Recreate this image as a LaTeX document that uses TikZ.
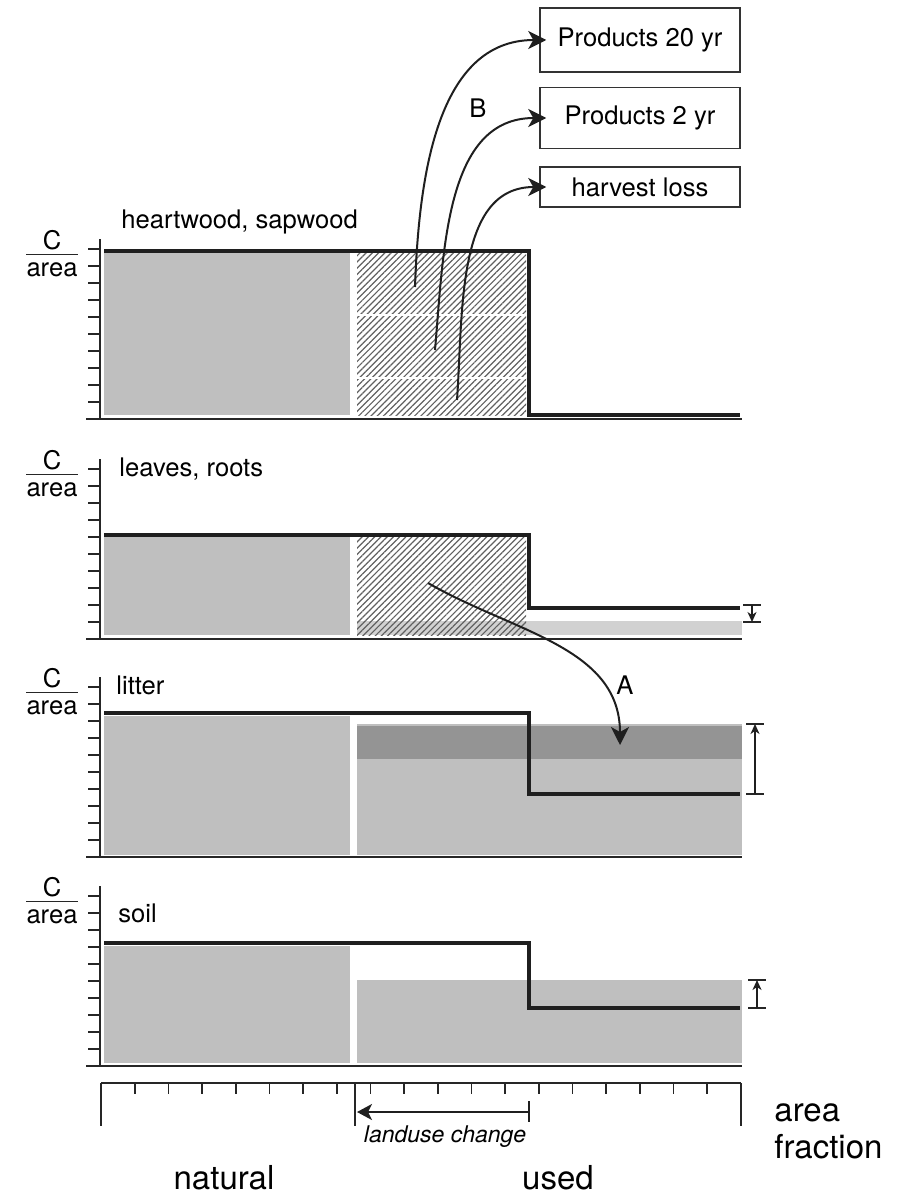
\documentclass[tikz,border=0pt]{standalone}
\usepackage{fontspec}
\setmainfont{TeX Gyre Heros}
\usetikzlibrary{patterns, patterns.meta, arrows.meta, positioning}

\begin{document}
\begin{tikzpicture}
	[%
	x=0.5pt, y=-0.5pt,%
	txt/.style     ={inner sep=0pt,		font=\fontsize{12.8}{15}\selectfont},%
	bigtxt/.style  ={inner sep=0pt,		font=\fontsize{16.5}{19}\selectfont},%
	store/.style   ={rectangle,		draw=black!80,	line width=0.75pt,	minimum width=100pt,	inner sep=0pt,	font=\fontsize{12.8}{15}\selectfont},%
	stock/.style   ={draw=black!88,	line width=2.2pt},%
	axisline/.style={draw=black!85,	line width=0.85pt},%
	pool/.style    ={fill=black!25},%
	pooldark/.style={fill=black!42},%
	poollight/.style={fill=black!18},%
	hatch/.style   ={pattern={Lines[angle=45, distance=2.2pt, line width=0.6pt]},	pattern color=black!62},%
	flow/.style    ={-{Stealth[length=9pt, width=9pt, inset=2.5pt]},	draw=black!88,	line width=1pt},%
	dflow/.style   ={-{Stealth[length=5pt, width=4.5pt, inset=1.5pt]},	draw=black!88,	line width=0.85pt},%
	]

	\useasboundingbox (0,0) rectangle (901,1204);

	\newcommand{\lax}{100}
	\newcommand{\ldrop}{529}

	% axes of the four pools
	\foreach \b/\n in {419/1, 639/2, 857/3, 1066/4} {%
		\draw [axisline] (\lax,\b-180) -- (\lax,\b);
		\draw [axisline] (86,\b) -- (742,\b);
		\foreach \k in {1,...,10}%
			\draw [axisline] (88,\b-17*\k) -- (\lax,\b-17*\k);
		\node (c\n)    at (52,\b-179) [txt] {C};
		\node (area\n) at (52,\b-149) [txt] {area};
		\draw [axisline] ([yshift=4pt]area\n.north west) -- ([yshift=4pt]area\n.north east);
	}

	% heartwood, sapwood
	\node (wood) at (121,222) [txt, anchor=west] {heartwood, sapwood};
	\fill [pool]  (104,253) rectangle (350,415);
	\fill [hatch] (357,253) rectangle (526,415);
	\draw [white, line width=1pt] (357,315) -- (526,315);
	\draw [white, line width=1pt] (357,378) -- (526,378);
	\draw [stock] (104,251) -- (\ldrop,251) -- (\ldrop,415) -- (740,415);

	% leaves, roots
	\node (leaves) at (119,469) [txt, anchor=west] {leaves, roots};
	\fill [pool]      (104,537) rectangle (350,635);
	\fill [poollight] (357,621) rectangle (742,635);
	\fill [hatch]     (357,537) rectangle (526,635);
	\draw [stock] (104,535) -- (\ldrop,535) -- (\ldrop,608) -- (740,608);

	% litter
	\node (litter) at (116,685) [txt, anchor=west] {litter};
	\fill [pool]     (104,716) rectangle (350,855);
	\fill [pool]     (357,724) rectangle (742,855);
	\fill [pooldark] (357,726) rectangle (742,759);
	\draw [stock] (104,713) -- (\ldrop,713) -- (\ldrop,794) -- (740,794);

	% soil
	\node (soil) at (118,913) [txt, anchor=west] {soil};
	\fill [pool] (104,946) rectangle (350,1063);
	\fill [pool] (357,980) rectangle (742,1063);
	\draw [stock] (104,943) -- (\ldrop,943) -- (\ldrop,1008) -- (740,1008);

	% changes on the right
	\coordinate (d2t) at (752,605);	\coordinate (d2b) at (752,622);
	\coordinate (d3t) at (755,724);	\coordinate (d3b) at (755,794);
	\coordinate (d4t) at (757,980);	\coordinate (d4b) at (757,1008);
	\foreach \n in {2,3,4} {%
		\draw [axisline] ([xshift=-4.5pt]d\n t) -- ([xshift=4.5pt]d\n t);
		\draw [axisline] ([xshift=-4.5pt]d\n b) -- ([xshift=4.5pt]d\n b);
	}
	\draw [dflow] (d2t) -- (d2b);
	\draw [dflow] (d3b) -- (d3t);
	\draw [dflow] (d4b) -- (d4t);

	% products
	\node (prod20) at (640,40)  [store, minimum height=32pt]   {Products 20 yr};
	\node (prod2)  at (640,118) [store, minimum height=30.5pt] {Products 2 yr};
	\node (loss)   at (640,187) [store, minimum height=20pt]   {harvest loss};

	\coordinate (b1) at (415,287);
	\coordinate (b2) at (435,350);
	\coordinate (b3) at (457,400);
	\draw [flow] (b1) to [out=88, in=180] ([xshift=3.5pt]prod20.west);
	\draw [flow] (b2) to [out=85, in=180] ([xshift=3.5pt]prod2.west);
	\draw [flow] (b3) to [out=86, in=180] ([xshift=3.5pt]loss.west);
	\node (labb) at (478,108) [txt] {B};

	\coordinate (a0) at (428,583);
	\coordinate (a1) at (620,745);
	\draw [flow] (a0) to [out=-30, in=90] (a1);
	\node (laba) at (625,685) [txt] {A};

	% area fraction
	\draw [axisline] (101,1083) -- (741,1083);
	\foreach \x in {101,355,741}%
		\draw [axisline] (\x,1083) -- (\x,1126);
	\foreach \k in {1,...,18}%
		\draw [axisline] (101+33.68*\k,1083) -- (101+33.68*\k,1094);
	\coordinate (lu0) at (357,1112);
	\coordinate (lu1) at (529,1112);
	\draw [flow, -{Stealth[length=7.5pt, width=8pt, inset=2pt]}] (lu1) -- (lu0);
	\draw [draw=black!88, line width=1.3pt] ([yshift=5.5pt]lu1) -- ([yshift=-5pt]lu1);
	\node (luc) at (445,1137) [inner sep=0pt, font=\fontsize{11.5}{13}\selectfont\itshape] {landuse change};

	\node (natural) at (224,1178) [bigtxt] {natural};
	\node (used)    at (558,1178) [bigtxt] {used};
	\node (area)    at (774,1113) [bigtxt, anchor=west] {area};
	\node (fract)   at (774,1147) [bigtxt, anchor=west] {fraction};

\end{tikzpicture}
\end{document}
